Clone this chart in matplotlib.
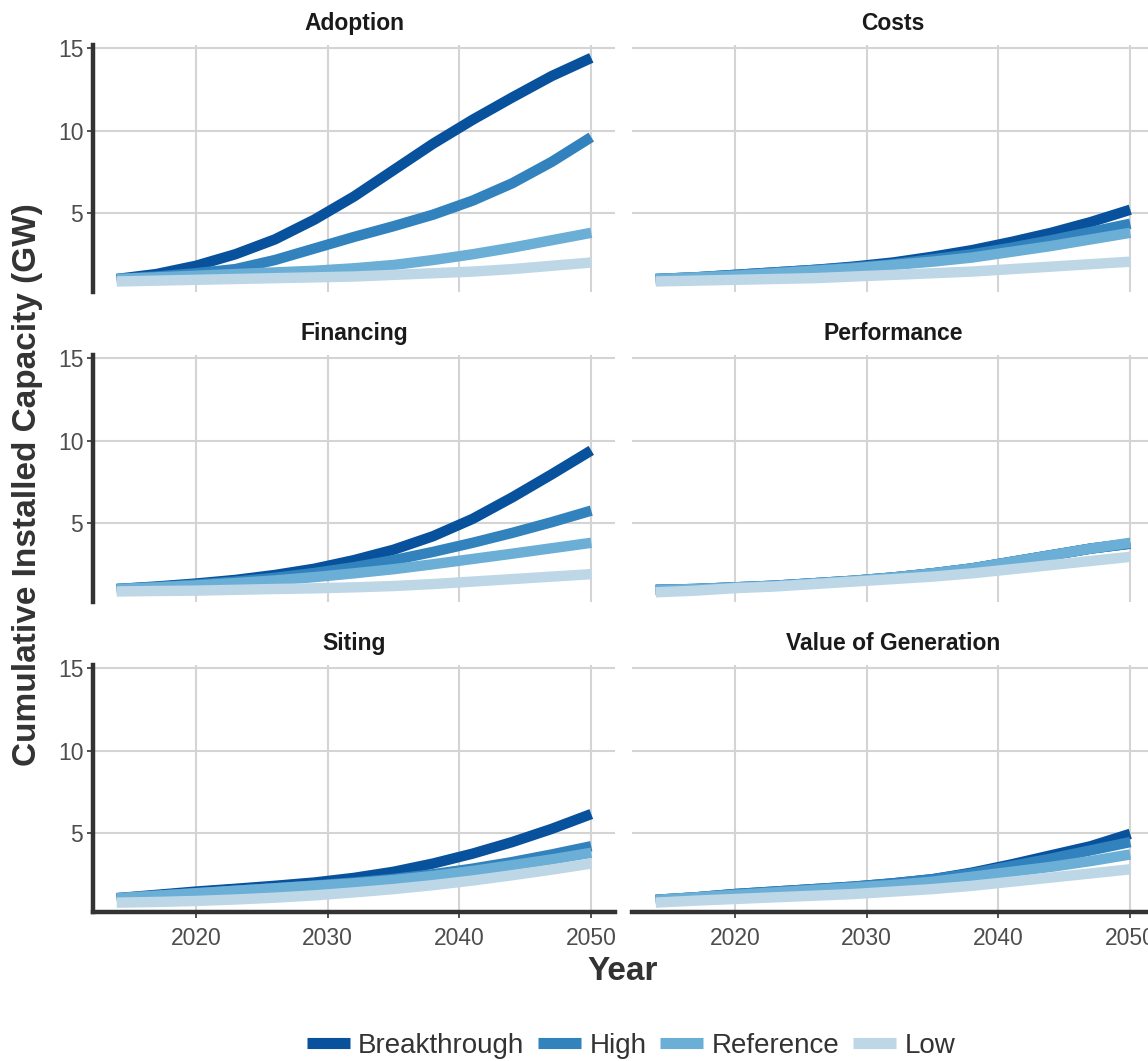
import matplotlib
matplotlib.use("Agg")
import matplotlib.pyplot as plt
from matplotlib.lines import Line2D

plt.rcParams['font.family'] = ['Liberation Sans', 'DejaVu Sans']

# data
years = [2014, 2017, 2020, 2023, 2026, 2029, 2032, 2035, 2038, 2041, 2044, 2047, 2050]
scenarios = ["Breakthrough", "High", "Reference", "Low"]
colors = ["#08519c", "#3182bd", "#6baed6", "#bdd7e7"]
panels = ["Adoption", "Costs", "Financing", "Performance", "Siting", "Value of Generation"]

adoption = [
    [1.0, 1.3, 1.8, 2.5, 3.4, 4.6, 6.0, 7.6, 9.2, 10.65, 12.0, 13.3, 14.4],
    [1.0, 1.15, 1.35, 1.6, 2.15, 2.85, 3.55, 4.2, 4.9, 5.75, 6.8, 8.1, 9.6],
    [1.0, 1.1, 1.2, 1.3, 1.4, 1.5, 1.65, 1.85, 2.15, 2.5, 2.9, 3.35, 3.8],
    [0.85, 0.9, 0.95, 1.0, 1.05, 1.1, 1.15, 1.25, 1.35, 1.45, 1.6, 1.8, 2.0],
]
costs = [
    [1.0, 1.1, 1.25, 1.4, 1.55, 1.75, 2.0, 2.35, 2.75, 3.25, 3.8, 4.45, 5.2],
    [1.0, 1.1, 1.25, 1.4, 1.55, 1.7, 1.9, 2.2, 2.5, 2.9, 3.35, 3.85, 4.35],
    [1.0, 1.1, 1.2, 1.35, 1.5, 1.65, 1.85, 2.05, 2.3, 2.65, 3.0, 3.4, 3.8],
    [0.85, 0.9, 0.95, 1.0, 1.05, 1.15, 1.25, 1.35, 1.45, 1.6, 1.75, 1.9, 2.05],
]
financing = [
    [1.0, 1.15, 1.33, 1.55, 1.85, 2.23, 2.75, 3.38, 4.2, 5.25, 6.55, 7.95, 9.4],
    [1.0, 1.12, 1.27, 1.45, 1.68, 1.97, 2.32, 2.75, 3.25, 3.8, 4.4, 5.05, 5.75],
    [1.0, 1.1, 1.22, 1.36, 1.52, 1.72, 1.95, 2.2, 2.5, 2.82, 3.14, 3.47, 3.8],
    [0.85, 0.88, 0.9, 0.95, 1.0, 1.04, 1.1, 1.18, 1.3, 1.45, 1.6, 1.75, 1.9],
]
performance = [
    [0.95, 1.0, 1.1, 1.2, 1.35, 1.5, 1.7, 1.95, 2.25, 2.65, 3.05, 3.45, 3.75],
    [0.95, 1.0, 1.1, 1.2, 1.35, 1.5, 1.7, 1.95, 2.25, 2.65, 3.05, 3.45, 3.75],
    [0.95, 1.0, 1.1, 1.2, 1.35, 1.5, 1.7, 1.95, 2.25, 2.65, 3.05, 3.45, 3.8],
    [0.8, 0.9, 1.05, 1.15, 1.3, 1.45, 1.6, 1.75, 1.95, 2.2, 2.45, 2.7, 2.95],
]
siting = [
    [1.05, 1.25, 1.45, 1.62, 1.8, 2.0, 2.28, 2.65, 3.15, 3.75, 4.45, 5.25, 6.15],
    [1.05, 1.2, 1.35, 1.5, 1.65, 1.82, 2.0, 2.22, 2.5, 2.84, 3.24, 3.7, 4.2],
    [1.05, 1.2, 1.35, 1.5, 1.65, 1.8, 1.95, 2.15, 2.4, 2.7, 3.05, 3.4, 3.8],
    [0.78, 0.82, 0.88, 0.97, 1.08, 1.22, 1.4, 1.6, 1.84, 2.12, 2.44, 2.78, 3.15],
]
value_gen = [
    [0.95, 1.1, 1.3, 1.45, 1.6, 1.75, 1.95, 2.2, 2.6, 3.1, 3.65, 4.2, 4.95],
    [0.95, 1.1, 1.3, 1.45, 1.6, 1.75, 1.95, 2.2, 2.55, 3.0, 3.45, 3.95, 4.45],
    [0.95, 1.1, 1.25, 1.4, 1.55, 1.7, 1.85, 2.05, 2.35, 2.65, 2.95, 3.3, 3.7],
    [0.78, 0.9, 1.0, 1.1, 1.2, 1.3, 1.45, 1.6, 1.8, 2.05, 2.3, 2.55, 2.8],
]
panel_data = [adoption, costs, financing, performance, siting, value_gen]

W, H = 1148, 1061
fig = plt.figure(figsize=(W / 100, H / 100), dpi=100)

col_x = [93, 632]
ax_w = 522
row_top = [44.7, 354.7, 664.7]
ax_h = 247.5
spine_col = "#333333"
tick_col = "#4d4d4d"

for i in range(6):
    r, c = i // 2, i % 2
    ax = fig.add_axes([col_x[c] / W, 1 - (row_top[r] + ax_h) / H, ax_w / W, ax_h / H])
    for k in range(4):
        ax.plot(years, panel_data[i][k], color=colors[k], lw=7.5,
                solid_capstyle="butt", solid_joinstyle="round", zorder=3 + k)
    ax.set_xlim(2012.2, 2051.8)
    ax.set_ylim(0.2, 15.2)
    ax.set_xticks([2020, 2030, 2040, 2050])
    ax.set_yticks([5, 10, 15])
    ax.grid(True, color="#d4d4d4", lw=1.5, zorder=0)
    ax.set_axisbelow(True)
    for s in ax.spines.values():
        s.set_visible(False)
    ax.tick_params(colors=spine_col, labelcolor=tick_col, labelsize=16.5,
                   length=4, width=1.2, pad=3)
    ax.tick_params(axis="x", pad=7)
    if c == 0:
        ax.spines["left"].set_visible(True)
        ax.spines["left"].set_color(spine_col)
        ax.spines["left"].set_linewidth(3.2)
    else:
        ax.tick_params(axis="y", left=False, labelleft=False)
    if r == 2:
        ax.spines["bottom"].set_visible(True)
        ax.spines["bottom"].set_color(spine_col)
        ax.spines["bottom"].set_linewidth(3.2)
    else:
        ax.tick_params(axis="x", bottom=False, labelbottom=False)
    fig.text((col_x[c] + ax_w / 2) / W, 1 - (row_top[r] - 21) / H, panels[i],
             ha="center", va="center", fontsize=16.5, fontweight="bold", color="#1a1a1a")

fig.text(28 / W, 1 - 485 / H, "Cumulative Installed Capacity (GW)", rotation=90,
         ha="center", va="center", fontsize=24, fontweight="bold", color="#333333")
fig.text(623 / W, 1 - 972 / H, "Year", ha="center", va="center",
         fontsize=24, fontweight="bold", color="#333333")

handles = [Line2D([0], [0], color=colors[k], lw=8, solid_capstyle="butt") for k in range(4)]
fig.legend(handles, scenarios, loc="center", bbox_to_anchor=(631 / W, 1 - 1046 / H),
           ncol=4, frameon=False, fontsize=20, handlelength=1.55, handletextpad=0.3,
           columnspacing=0.5, labelcolor="#333333")

fig.savefig("out.png", dpi=100)
